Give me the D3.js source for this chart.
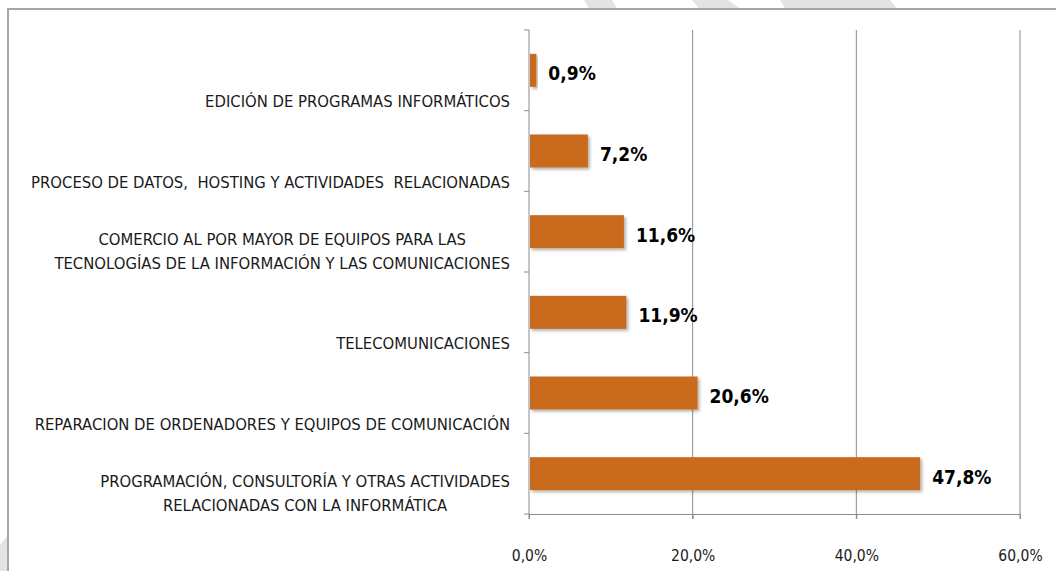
<!DOCTYPE html>
<html>
<head>
<meta charset="utf-8">
<script src="https://cdn.jsdelivr.net/npm/d3@7"></script>
<style>
  body { margin: 0; background: #fff; }
  svg { display: block; }
  .cat { font-family: "Liberation Sans Narrow", "DejaVu Sans Condensed", sans-serif; font-size: 16.5px; fill: #1a1a1a; }
  .tick-lbl { font-family: "Liberation Sans Narrow", "DejaVu Sans Condensed", sans-serif; font-size: 15.5px; fill: #1a1a1a; }
  .val { font-family: "DejaVu Sans Condensed", "Liberation Sans Narrow", sans-serif; font-size: 19px; font-weight: bold; fill: #000; }
</style>
</head>
<body>
<svg id="canvas" width="1056" height="571"></svg>
<script>
// Chart data
let categories = [
    "EDICIÓN DE PROGRAMAS INFORMÁTICOS",
    "PROCESO DE DATOS,  HOSTING Y ACTIVIDADES  RELACIONADAS",
    "COMERCIO AL POR MAYOR DE EQUIPOS PARA LAS|TECNOLOGÍAS DE LA INFORMACIÓN Y LAS COMUNICACIONES",
    "TELECOMUNICACIONES",
    "REPARACION DE ORDENADORES Y EQUIPOS DE COMUNICACIÓN",
    "PROGRAMACIÓN, CONSULTORÍA Y OTRAS ACTIVIDADES|RELACIONADAS CON LA INFORMÁTICA"
]
let values = [0.9, 7.2, 11.6, 11.9, 20.6, 47.8]
let tickValues = [0, 20, 40, 60]

let canvas = d3.select('#canvas')

let fmt = v => d3.format('.1f')(v).replace('.', ',') + '%'

let x = d3.scaleLinear().domain([0, 60]).range([529, 1020])
let y = d3.scaleBand().domain(categories).range([30, 514])

let drawChart = () => {
    // watermark stripes behind the frame
    let stripes = [
        [[584, 0], [612, 0], [618, 10], [590, 10]],
        [[692, 0], [728, 0], [742, 10], [700, 10]],
        [[780, 0], [890, 0], [898, 10], [786, 10]],
        [[0, 545], [8, 535], [8, 571], [0, 571]]
    ]
    canvas.selectAll('polygon.wm')
        .data(stripes)
        .enter()
        .append('polygon')
        .attr('class', 'wm')
        .attr('points', d => d.map(p => p.join(',')).join(' '))
        .attr('fill', '#e3e3e3')

    // frame
    canvas.append('rect')
        .attr('x', 8).attr('y', 9)
        .attr('width', 1060).attr('height', 580)
        .attr('fill', '#fff')
        .attr('stroke', '#a6a6a6')
        .attr('stroke-width', 2)

    // drop shadow for bars
    let defs = canvas.append('defs')
    defs.append('filter')
        .attr('id', 'shadow')
        .attr('x', '-5%').attr('y', '-20%').attr('width', '120%').attr('height', '160%')
        .append('feDropShadow')
        .attr('dx', 2).attr('dy', 2).attr('stdDeviation', 1.5)
        .attr('flood-color', '#000').attr('flood-opacity', 0.3)

    // vertical gridlines
    canvas.selectAll('line.grid')
        .data(tickValues.slice(1))
        .enter()
        .append('line')
        .attr('class', 'grid')
        .attr('x1', d => x(d)).attr('x2', d => x(d))
        .attr('y1', 30).attr('y2', 519)
        .attr('stroke', '#8c8c8c')
        .attr('stroke-width', 1)

    // bottom axis
    let xAxis = d3.axisBottom(x)
        .tickValues(tickValues)
        .tickSize(5)
        .tickFormat(fmt)
    let gx = canvas.append('g')
        .attr('transform', 'translate(0,514)')
        .call(xAxis)
    gx.select('.domain').attr('stroke', '#8c8c8c')
    gx.selectAll('.tick line').attr('stroke', '#8c8c8c')
    gx.selectAll('.tick text')
        .attr('class', 'tick-lbl')
        .attr('y', 36)
        .attr('font-family', null).attr('font-size', null)

    // left axis line and category ticks
    canvas.append('line')
        .attr('x1', x(0)).attr('x2', x(0))
        .attr('y1', 30).attr('y2', 519)
        .attr('stroke', '#8c8c8c')
    let bounds = [30].concat(categories.map(c => y(c) + y.bandwidth()))
    canvas.selectAll('line.ctick')
        .data(bounds)
        .enter()
        .append('line')
        .attr('class', 'ctick')
        .attr('x1', x(0) - 5).attr('x2', x(0))
        .attr('y1', d => d).attr('y2', d => d)
        .attr('stroke', '#8c8c8c')

    // bars
    let barH = 33
    canvas.selectAll('rect.bar')
        .data(values)
        .enter()
        .append('rect')
        .attr('class', 'bar')
        .attr('x', x(0) + 1)
        .attr('y', (d, i) => y(categories[i]) + y.bandwidth() / 2 - barH / 2)
        .attr('width', d => x(d) - x(0) - 1)
        .attr('height', barH)
        .attr('fill', '#ca6a1d')
        .attr('filter', 'url(#shadow)')

    // value labels
    canvas.selectAll('text.val')
        .data(values)
        .enter()
        .append('text')
        .attr('class', 'val')
        .attr('x', d => x(d) + 12)
        .attr('y', (d, i) => y(categories[i]) + y.bandwidth() / 2 + 3)
        .attr('dominant-baseline', 'central')
        .text(d => fmt(d))

    // category labels (last line sits near band bottom, lines centred on widest)
    categories.forEach(c => {
        let lines = c.split('|')
        let bottom = y(c) + y.bandwidth() - 9.5
        let g = canvas.append('text')
            .attr('class', 'cat')
            .attr('text-anchor', 'middle')
            .attr('dominant-baseline', 'central')
        let spans = lines.map((l, j) => g.append('tspan')
            .attr('y', bottom - (lines.length - 1 - j) * 24)
            .style('white-space', 'pre')
            .text(l))
        let maxW = d3.max(spans, s => s.node().getComputedTextLength())
        spans.forEach(s => s.attr('x', 510 - maxW / 2))
    })
}

drawChart()
</script>
</body>
</html>
